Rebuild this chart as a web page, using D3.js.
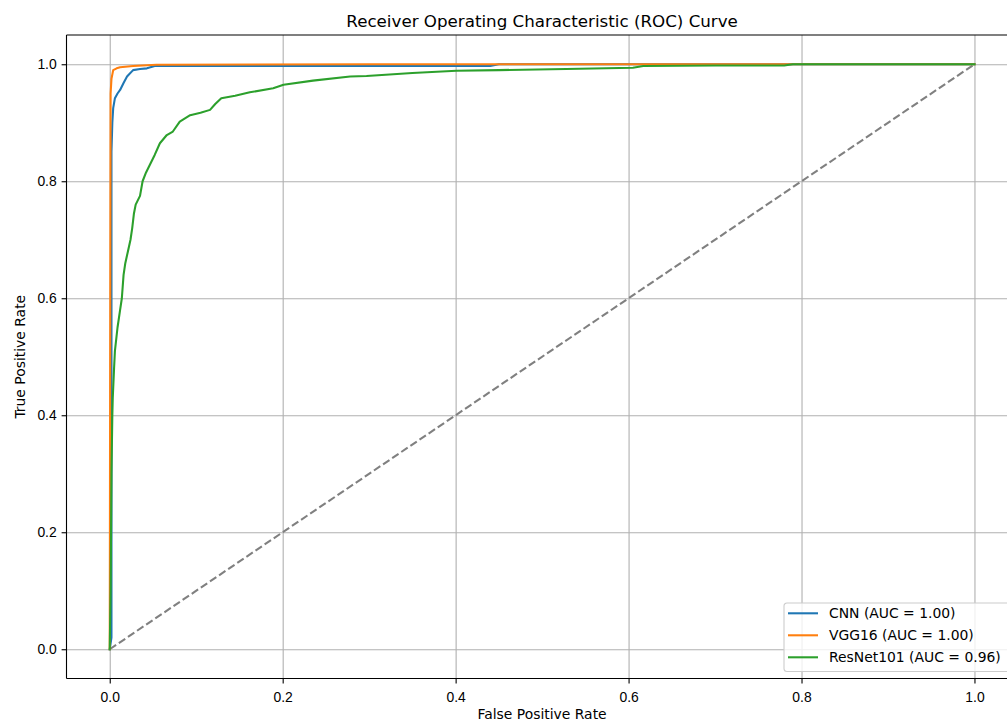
<!DOCTYPE html>
<html lang="en">
<head>
<meta charset="utf-8">
<title>Receiver Operating Characteristic (ROC) Curve</title>
<style>
    body { margin: 0; background: #fff; }
    svg { display: block; font-family: 'DejaVu Sans', sans-serif; }
    .grid line { stroke: #b0b0b0; stroke-width: 1.1px; }
    .grid path { display: none; }
    .axis path, .axis line { stroke: #000; stroke-width: 1.1px; }
    .axis text { font-size: 13.9px; fill: #000; }
</style>
</head>
<body>
<script src="https://cdn.jsdelivr.net/npm/d3@7"></script>
<script>
    // values
    let models = ["CNN", "VGG16", "ResNet101"];
    let aucs = [1.00, 1.00, 0.96];
    let colors = ["#1f77b4", "#ff7f0e", "#2ca02c"];

    let cnnFpr = [0, 0.002, 0.002, 0.003, 0.004, 0.006, 0.009, 0.012, 0.016, 0.020, 0.027, 0.035, 0.043, 0.052, 0.44, 0.45, 1];
    let cnnTpr = [0, 0.02, 0.85, 0.90, 0.925, 0.942, 0.950, 0.956, 0.968, 0.979, 0.990, 0.992, 0.993, 0.997, 0.997, 1.0, 1];

    let vggFpr = [0, 0.0005, 0.001, 0.002, 0.004, 0.008, 0.012, 0.027, 0.054, 0.30, 1];
    let vggTpr = [0, 0.50, 0.95, 0.975, 0.990, 0.993, 0.995, 0.997, 0.999, 1.0, 1];

    let resFpr = [0, 0.001, 0.002, 0.003, 0.0035, 0.005, 0.006, 0.009, 0.012, 0.014, 0.016, 0.018, 0.021, 0.024,
        0.026, 0.028, 0.030, 0.035, 0.038, 0.042, 0.047, 0.052, 0.058, 0.066, 0.073, 0.081, 0.093, 0.105, 0.116,
        0.122, 0.129, 0.145, 0.162, 0.189, 0.201, 0.235, 0.278, 0.297, 0.35, 0.401, 0.45, 0.528, 0.605, 0.617,
        0.70, 0.78, 0.79, 1];
    let resTpr = [0, 0.10, 0.30, 0.40, 0.43, 0.48, 0.51, 0.55, 0.58, 0.60, 0.64, 0.66, 0.68, 0.70,
        0.72, 0.745, 0.76, 0.775, 0.80, 0.815, 0.83, 0.845, 0.865, 0.879, 0.885, 0.902, 0.913, 0.917, 0.922,
        0.932, 0.942, 0.946, 0.952, 0.959, 0.965, 0.972, 0.979, 0.980, 0.985, 0.989, 0.990, 0.992, 0.994, 0.997,
        0.998, 0.998, 1.0, 1];

    let tickValues = [0, 0.2, 0.4, 0.6, 0.8, 1.0];

    let curves = [
        { fpr: cnnFpr, tpr: cnnTpr },
        { fpr: vggFpr, tpr: vggTpr },
        { fpr: resFpr, tpr: resTpr }
    ];

    let width = 1007, height = 721;
    let margin = { top: 35, left: 66.5 },
        plotW = 951.2,
        plotH = 643.5;

    let svg = d3.select("body").append("svg")
        .attr("width", width)
        .attr("height", height);

    let g = svg.append("g")
        .attr("transform", "translate(" + margin.left + "," + margin.top + ")");

    let x = d3.scaleLinear().domain([-0.05, 1.05]).range([0, plotW]);
    let y = d3.scaleLinear().domain([-0.05, 1.05]).range([plotH, 0]);

    // grid
    g.append("g")
        .attr("class", "grid")
        .attr("transform", "translate(0," + plotH + ")")
        .call(d3.axisBottom(x).tickValues(tickValues).tickSize(-plotH).tickFormat(""));
    g.append("g")
        .attr("class", "grid")
        .call(d3.axisLeft(y).tickValues(tickValues).tickSize(-plotW).tickFormat(""));

    // diagonal reference
    g.append("line")
        .attr("x1", x(0)).attr("y1", y(0))
        .attr("x2", x(1)).attr("y2", y(1))
        .attr("stroke", "#808080")
        .attr("stroke-width", 2.08)
        .attr("stroke-dasharray", "7.7,3.3");

    let line = d3.line()
        .x(function(d) { return x(d[0]); })
        .y(function(d) { return y(d[1]); });

    curves.forEach(function(c, i) {
        let pts = c.fpr.map(function(f, j) { return [f, c.tpr[j]]; });
        g.append("path")
            .datum(pts)
            .attr("d", line)
            .attr("fill", "none")
            .attr("stroke", colors[i])
            .attr("stroke-width", 2.08)
            .attr("stroke-linejoin", "round")
            .attr("stroke-linecap", "square");
    });

    // axes / spines
    let xAxis = g.append("g")
        .attr("class", "axis")
        .attr("transform", "translate(0," + plotH + ")")
        .call(d3.axisBottom(x).tickValues(tickValues).tickSize(4.9).tickPadding(4.9).tickFormat(d3.format(".1f")));
    xAxis.select(".domain").attr("d", "M0,0H" + plotW);
    xAxis.selectAll("text").attr("dy", null).attr("y", 23);

    let yAxis = g.append("g")
        .attr("class", "axis")
        .call(d3.axisLeft(y).tickValues(tickValues).tickSize(4.9).tickPadding(4.9).tickFormat(d3.format(".1f")));
    yAxis.select(".domain").attr("d", "M0,0V" + plotH);

    g.append("line")
        .attr("x1", 0).attr("x2", plotW)
        .attr("y1", 0).attr("y2", 0)
        .attr("stroke", "#000").attr("stroke-width", 1.1);
    g.append("line")
        .attr("x1", plotW).attr("x2", plotW)
        .attr("y1", 0).attr("y2", plotH)
        .attr("stroke", "#000").attr("stroke-width", 1.1);

    // title and labels
    svg.append("text")
        .attr("x", margin.left + plotW / 2)
        .attr("y", 26.5)
        .attr("text-anchor", "middle")
        .style("font-size", "16.7px")
        .text("Receiver Operating Characteristic (ROC) Curve");

    svg.append("text")
        .attr("x", margin.left + plotW / 2)
        .attr("y", 719)
        .attr("text-anchor", "middle")
        .style("font-size", "13.9px")
        .text("False Positive Rate");

    svg.append("text")
        .attr("transform", "translate(25," + (margin.top + plotH / 2) + ") rotate(-90)")
        .attr("text-anchor", "middle")
        .style("font-size", "13.9px")
        .text("True Positive Rate");

    // legend (lower right)
    let legend = g.append("g")
        .attr("transform", "translate(" + (784 - margin.left) + "," + (603 - margin.top) + ")");
    legend.append("rect")
        .attr("width", 226.5)
        .attr("height", 68.5)
        .attr("rx", 3)
        .attr("fill", "#fff")
        .attr("fill-opacity", 0.8)
        .attr("stroke", "#cccccc")
        .attr("stroke-width", 1.1);

    let rows = legend.selectAll("g.row")
        .data(models)
        .enter().append("g")
        .attr("class", "row")
        .attr("transform", function(d, i) { return "translate(0," + (10.3 + i * 22) + ")"; });
    rows.append("line")
        .attr("x1", 4).attr("x2", 34)
        .attr("y1", 0).attr("y2", 0)
        .attr("stroke", function(d, i) { return colors[i]; })
        .attr("stroke-width", 2.08);
    rows.append("text")
        .attr("x", 45)
        .attr("dy", "0.35em")
        .style("font-size", "13.9px")
        .text(function(d, i) { return d + " (AUC = " + aucs[i].toFixed(2) + ")"; });
</script>
</body>
</html>
